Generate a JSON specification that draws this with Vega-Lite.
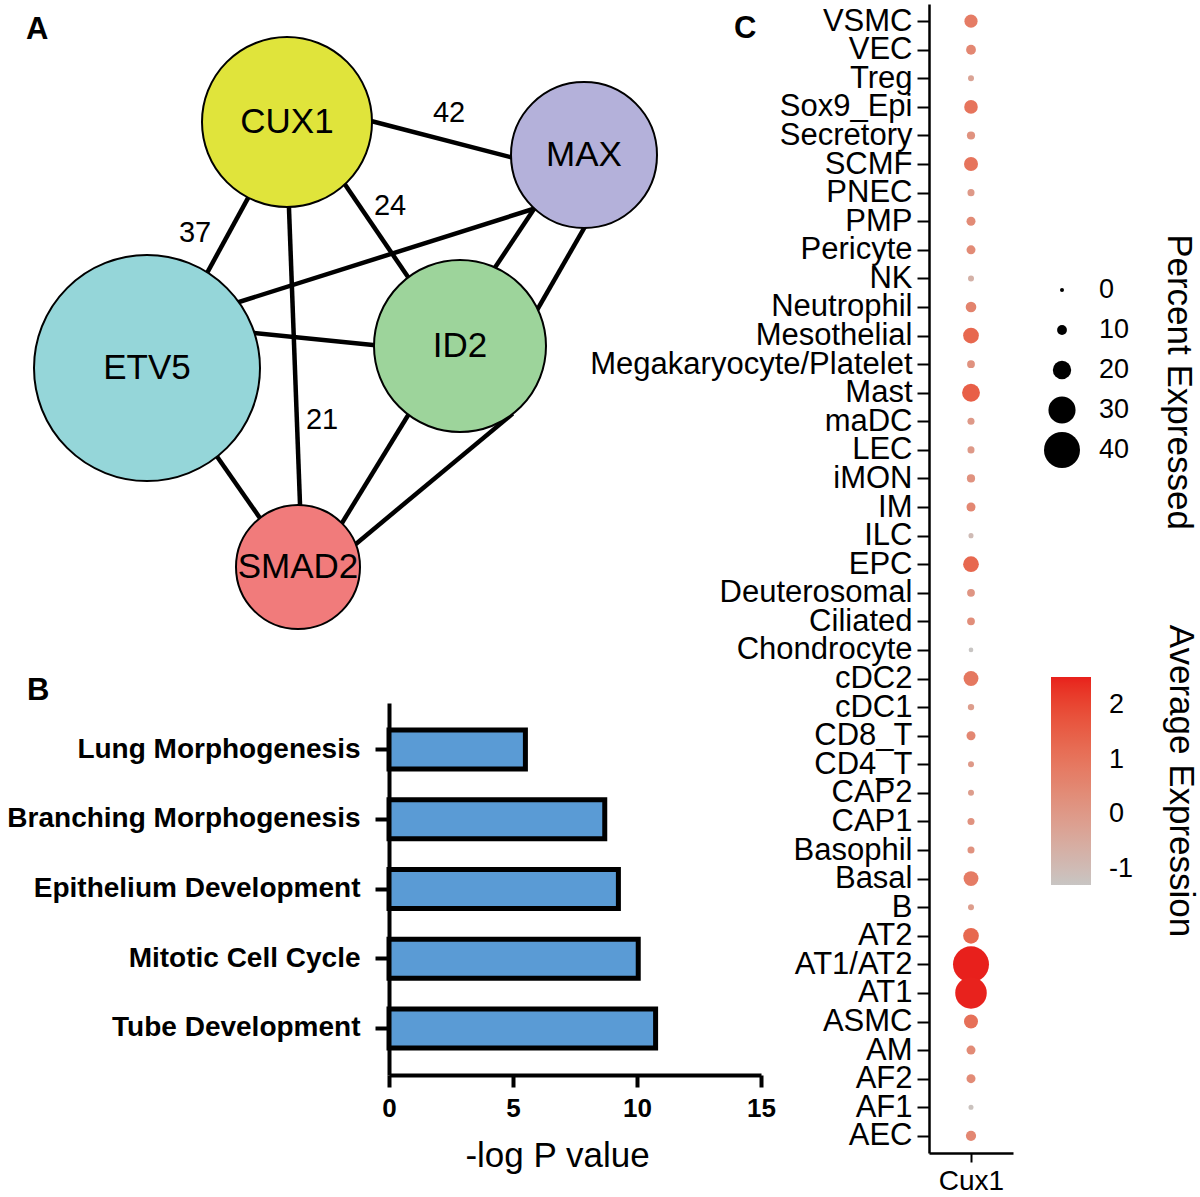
{
  "$schema": "https://vega.github.io/schema/vega-lite/v6.json",
  "background": "white",
  "padding": {"left": 3, "top": 4, "right": 10, "bottom": 0},
  "bounds": "flush",
  "spacing": 540,
  "resolve": {"scale": {"size": "independent", "color": "independent", "fill": "independent"}},
  "datasets": {
    "nodes": [
      {"id": "CUX1", "x": 2.84, "y": 1.18, "r": 0.85},
      {"id": "MAX", "x": 5.81, "y": 1.51, "r": 0.73},
      {"id": "ETV5", "x": 1.44, "y": 3.64, "r": 1.13},
      {"id": "ID2", "x": 4.57, "y": 3.42, "r": 0.86},
      {"id": "SMAD2", "x": 2.95, "y": 5.63, "r": 0.62}
    ],
    "edges": [
      {"source": "CUX1", "target": "MAX", "x": 3.623, "y": 1.155, "x2": 5.167, "y2": 1.555},
      {"source": "CUX1", "target": "ETV5", "x": 2.488, "y": 1.872, "x2": 1.992, "y2": 2.778},
      {"source": "CUX1", "target": "SMAD2", "x": 2.856, "y": 1.94, "x2": 2.974, "y2": 5.11},
      {"source": "CUX1", "target": "ID2", "x": 3.374, "y": 1.737, "x2": 4.086, "y2": 2.783},
      {"source": "MAX", "target": "ETV5", "x": 5.365, "y": 2.03, "x2": 2.265, "y2": 3.01},
      {"source": "MAX", "target": "ID2", "x": 5.345, "y": 1.997, "x2": 4.895, "y2": 2.673},
      {"source": "MAX", "target": "ID2", "x": 5.85, "y": 2.173, "x2": 5.32, "y2": 3.097},
      {"source": "ETV5", "target": "ID2", "x": 2.42, "y": 3.28, "x2": 3.8, "y2": 3.42},
      {"source": "ETV5", "target": "SMAD2", "x": 2.093, "y": 4.458, "x2": 2.627, "y2": 5.222},
      {"source": "ID2", "target": "SMAD2", "x": 4.092, "y": 4.045, "x2": 3.338, "y2": 5.275},
      {"source": "ID2", "target": "SMAD2", "x": 5.097, "y": 4.096, "x2": 3.463, "y2": 5.454}
    ],
    "edgeLabels": [
      {"label": "42", "x": 4.46, "y": 1.09},
      {"label": "24", "x": 3.87, "y": 2.02},
      {"label": "37", "x": 1.92, "y": 2.29},
      {"label": "21", "x": 3.19, "y": 4.16}
    ],
    "terms": [
      {"term": "Lung Morphogenesis", "logp": 5.5},
      {"term": "Branching Morphogenesis", "logp": 8.7},
      {"term": "Epithelium Development", "logp": 9.25},
      {"term": "Mitotic Cell Cycle", "logp": 10.05},
      {"term": "Tube Development", "logp": 10.75}
    ],
    "cells": [
      {"gene": "Cux1", "cell": "VSMC", "pct": 14, "avg": 0.8},
      {"gene": "Cux1", "cell": "VEC", "pct": 10, "avg": 0.5},
      {"gene": "Cux1", "cell": "Treg", "pct": 5, "avg": -0.3},
      {"gene": "Cux1", "cell": "Sox9_Epi", "pct": 14.5, "avg": 1.0},
      {"gene": "Cux1", "cell": "Secretory", "pct": 8, "avg": 0.2},
      {"gene": "Cux1", "cell": "SCMF", "pct": 15, "avg": 1.0},
      {"gene": "Cux1", "cell": "PNEC", "pct": 6.5, "avg": 0.0},
      {"gene": "Cux1", "cell": "PMP", "pct": 9, "avg": 0.4},
      {"gene": "Cux1", "cell": "Pericyte", "pct": 9, "avg": 0.4},
      {"gene": "Cux1", "cell": "NK", "pct": 5, "avg": -0.7},
      {"gene": "Cux1", "cell": "Neutrophil", "pct": 11, "avg": 0.6},
      {"gene": "Cux1", "cell": "Mesothelial", "pct": 17, "avg": 1.3},
      {"gene": "Cux1", "cell": "Megakaryocyte/Platelet", "pct": 7.5, "avg": 0.2},
      {"gene": "Cux1", "cell": "Mast", "pct": 19.5, "avg": 1.5},
      {"gene": "Cux1", "cell": "maDC", "pct": 6.5, "avg": 0.0},
      {"gene": "Cux1", "cell": "LEC", "pct": 6.5, "avg": 0.0},
      {"gene": "Cux1", "cell": "iMON", "pct": 8, "avg": 0.2},
      {"gene": "Cux1", "cell": "IM", "pct": 9, "avg": 0.5},
      {"gene": "Cux1", "cell": "ILC", "pct": 3.5, "avg": -1.0},
      {"gene": "Cux1", "cell": "EPC", "pct": 17, "avg": 1.3},
      {"gene": "Cux1", "cell": "Deuterosomal", "pct": 7.5, "avg": 0.1},
      {"gene": "Cux1", "cell": "Ciliated", "pct": 7.5, "avg": 0.3},
      {"gene": "Cux1", "cell": "Chondrocyte", "pct": 2.7, "avg": -1.3},
      {"gene": "Cux1", "cell": "cDC2", "pct": 16, "avg": 0.9},
      {"gene": "Cux1", "cell": "cDC1", "pct": 5.5, "avg": -0.1},
      {"gene": "Cux1", "cell": "CD8_T", "pct": 9, "avg": 0.5},
      {"gene": "Cux1", "cell": "CD4_T", "pct": 5, "avg": 0.0},
      {"gene": "Cux1", "cell": "CAP2", "pct": 5, "avg": -0.1},
      {"gene": "Cux1", "cell": "CAP1", "pct": 6.5, "avg": 0.2},
      {"gene": "Cux1", "cell": "Basophil", "pct": 6.5, "avg": 0.2},
      {"gene": "Cux1", "cell": "Basal", "pct": 16, "avg": 0.8},
      {"gene": "Cux1", "cell": "B", "pct": 5, "avg": -0.1},
      {"gene": "Cux1", "cell": "AT2", "pct": 17, "avg": 1.3},
      {"gene": "Cux1", "cell": "AT1/AT2", "pct": 40, "avg": 2.52},
      {"gene": "Cux1", "cell": "AT1", "pct": 35, "avg": 2.5},
      {"gene": "Cux1", "cell": "ASMC", "pct": 15, "avg": 1.1},
      {"gene": "Cux1", "cell": "AM", "pct": 9, "avg": 0.4},
      {"gene": "Cux1", "cell": "AF2", "pct": 9, "avg": 0.4},
      {"gene": "Cux1", "cell": "AF1", "pct": 3.5, "avg": -1.2},
      {"gene": "Cux1", "cell": "AEC", "pct": 10.5, "avg": 0.5}
    ]
  },
  "hconcat": [
    {
      "spacing": 21,
      "vconcat": [
        {
          "width": 294,
          "height": 650,
          "title": {"text": "A", "anchor": "start", "frame": "group", "orient": "top", "fontSize": 31, "fontWeight": "bold", "color": "black", "offset": -66, "dx": -363, "baseline": "alphabetic"},
          "encoding": {
            "x": {"field": "x", "type": "quantitative", "scale": {"domain": [3.86, 6.8], "nice": false, "zero": false}, "axis": null},
            "y": {"field": "y", "type": "quantitative", "scale": {"domain": [0, 6.5], "nice": false, "zero": false, "reverse": true}, "axis": null}
          },
          "layer": [
            {
              "data": {"name": "edges"},
              "mark": {"type": "rule", "color": "black", "strokeWidth": 4.5, "strokeCap": "butt"},
              "encoding": {
                "x2": {"field": "x2"},
                "y2": {"field": "y2"}
              }
            },
            {
              "data": {"name": "nodes"},
              "mark": {"type": "point", "shape": "circle", "filled": true, "opacity": 1, "stroke": "black", "strokeWidth": 2},
              "encoding": {
                "fill": {"field": "id", "type": "nominal", "scale": {"domain": ["CUX1", "MAX", "ETV5", "ID2", "SMAD2"], "range": ["#E0E43B", "#B4B1DA", "#95D6D9", "#9DD49B", "#F17B7B"]}, "legend": null},
                "size": {"field": "r", "type": "quantitative", "scale": {"type": "pow", "exponent": 2, "domain": [0, 1.2], "range": [0, 57600]}, "legend": null}
              }
            },
            {
              "data": {"name": "nodes"},
              "mark": {"type": "text", "fontSize": 35, "align": "center", "baseline": "middle", "color": "black"},
              "encoding": {"text": {"field": "id"}}
            },
            {
              "data": {"name": "edgeLabels"},
              "mark": {"type": "text", "fontSize": 29, "align": "center", "baseline": "middle", "color": "black"},
              "encoding": {"text": {"field": "label"}}
            }
          ]
        },
        {
          "width": 372,
          "height": 372,
          "title": {"text": "B", "anchor": "start", "frame": "bounds", "orient": "top", "fontSize": 31, "fontWeight": "bold", "color": "black", "offset": -28, "dx": 24, "baseline": "alphabetic"},
          "data": {"name": "terms"},
          "mark": {"type": "bar", "fill": "#5A9BD5", "stroke": "black", "strokeWidth": 5},
          "encoding": {
            "y": {"field": "term", "type": "nominal", "sort": null, "scale": {"paddingInner": 0.44, "paddingOuter": 0.387},
                  "axis": {"title": null, "labelFontSize": 28, "labelFontWeight": "bold", "labelLimit": 600, "labelPadding": 15, "tickSize": 14, "tickWidth": 4, "domainWidth": 4, "minExtent": 386}},
            "x": {"field": "logp", "type": "quantitative", "scale": {"domain": [0, 15], "nice": false},
                  "axis": {"values": [0, 5, 10, 15], "title": "-log P value", "titleFontSize": 35, "titleFontWeight": "normal", "titlePadding": 17, "titleX": 168, "labelFontSize": 26, "labelFontWeight": "bold", "labelPadding": 8, "labelFlush": false, "tickSize": 12, "tickWidth": 4, "domainWidth": 4}}
          }
        }
      ]
    },
    {
      "width": 84,
      "height": 1149,
      "title": {"text": "C", "anchor": "start", "frame": "group", "orient": "top", "fontSize": 31, "fontWeight": "bold", "color": "black", "offset": -65, "dx": -195, "baseline": "alphabetic"},
      "data": {"name": "cells"},
      "mark": {"type": "circle", "opacity": 1},
      "encoding": {
        "x": {"field": "gene", "type": "nominal", "scale": {"type": "point", "padding": 0.6},
              "axis": {"title": null, "labelAngle": 0, "labelFontSize": 28, "labelPadding": 5, "tickSize": 9, "tickWidth": 2, "domainWidth": 2.5}},
        "y": {"field": "cell", "type": "nominal", "sort": null, "scale": {"type": "point", "padding": 0.6},
              "axis": {"title": null, "labelFontSize": 31, "labelLimit": 600, "labelPadding": 5, "labelOverlap": false, "tickSize": 12, "tickWidth": 2, "domainWidth": 2.5}},
        "size": {"field": "pct", "type": "quantitative", "scale": {"type": "pow", "exponent": 2, "domain": [0, 40], "range": [16, 1296]},
                 "legend": {"title": "Percent Expressed", "orient": "none", "legendX": 115, "legendY": 266, "values": [0, 10, 20, 30, 40],
                            "titleOrient": "right", "titleAnchor": "middle", "titleFontSize": 35, "titleFontWeight": "normal", "titleLimit": 600, "titlePadding": 50,
                            "labelFontSize": 27, "labelOffset": 19, "rowPadding": 0, "clipHeight": 40, "padding": 0,
                            "symbolFillColor": "black", "symbolStrokeWidth": 0, "symbolOpacity": 1, "symbolType": "circle",
                            "encode": {"title": {"update": {"angle": {"value": 90}, "align": {"value": "center"}, "dx": {"value": 12}}}}}},
        "color": {"field": "avg", "type": "quantitative", "scale": {"range": ["#C8C5C3", "#E8201C"], "interpolate": "lab", "nice": false, "zero": false},
                  "legend": {"title": "Average Expression", "orient": "none", "legendX": 122, "legendY": 673, "direction": "vertical", "values": [-1, 0, 1, 2],
                             "labelExpr": "replace(datum.label, '\u2212', '-')",
                             "gradientLength": 208, "gradientThickness": 40, "gradientStrokeWidth": 0,
                             "titleOrient": "right", "titleAnchor": "middle", "titleFontSize": 35, "titleFontWeight": "normal", "titleLimit": 600, "titlePadding": 30,
                             "labelFontSize": 27, "labelOffset": 18, "padding": 0,
                             "encode": {"title": {"update": {"angle": {"value": 90}, "align": {"value": "center"}, "dx": {"value": -33}}}}}}
      }
    }
  ],
  "config": {
    "font": "Liberation Sans",
    "view": {"stroke": null},
    "axis": {"grid": false, "domainColor": "black", "tickColor": "black", "labelColor": "black", "titleColor": "black"},
    "legend": {"labelColor": "black", "titleColor": "black"},
    "title": {"color": "black"}
  }
}
